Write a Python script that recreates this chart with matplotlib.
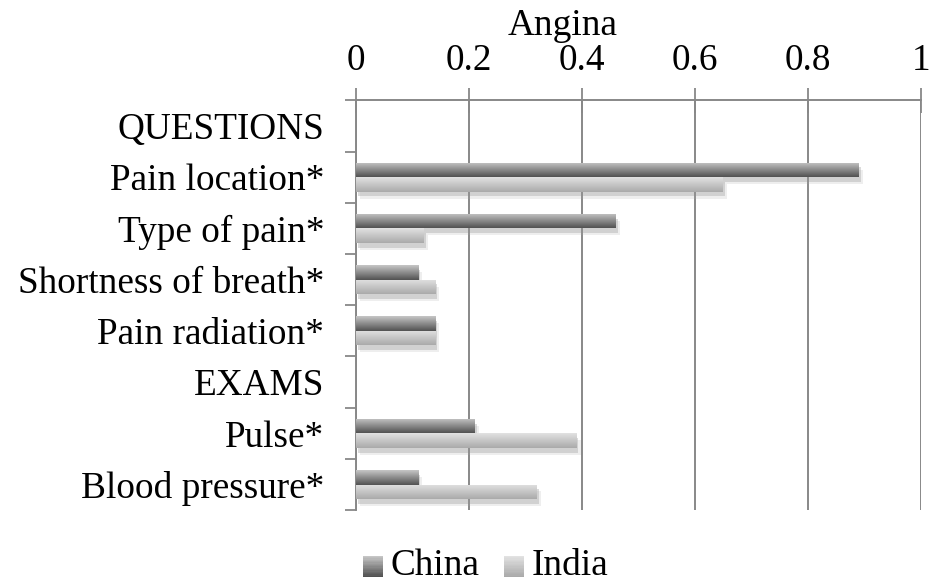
import matplotlib.pyplot as plt
import matplotlib.patheffects as pe
from matplotlib.patches import Rectangle
from matplotlib.legend_handler import HandlerBase
import numpy as np

plt.rcParams['font.family'] = ['Liberation Serif', 'DejaVu Serif']

categories = ["QUESTIONS", "Pain location*", "Type of pain*", "Shortness of breath*",
              "Pain radiation*", "EXAMS", "Pulse*", "Blood pressure*"]
china = [0, 0.89, 0.46, 0.11, 0.14, 0, 0.21, 0.11]
india = [0, 0.65, 0.12, 0.14, 0.14, 0, 0.39, 0.32]
x_ticks = [0, 0.2, 0.4, 0.6, 0.8, 1]

china_top, china_bot = (198, 198, 198), (82, 82, 82)
india_top, india_bot = (226, 226, 226), (170, 170, 170)

FS = 26.8
fig = plt.figure(figsize=(9.3, 5.83), dpi=100)
ax = fig.add_axes([0.383, 0.125, 0.607, 0.703])

y = np.arange(len(categories))
h = 0.283


def grad_img(top_col, bot_col, n=64):
    g = np.linspace(0, 1, n).reshape(-1, 1, 1)
    top = np.array(top_col) / 255.0
    bot = np.array(bot_col) / 255.0
    return top + (bot - top) * g


def gradient_bars(bars, top_col, bot_col):
    # vertical gradient inside each bar, lighter on top
    img = grad_img(top_col, bot_col)
    for b in bars:
        if b.get_width() <= 0:
            b.set_visible(False)
            continue
        x0, y0 = b.get_x(), b.get_y()
        w, hh = b.get_width(), b.get_height()
        im = ax.imshow(img, extent=[x0, x0 + w, y0 + hh, y0], aspect='auto',
                       interpolation='bilinear', zorder=3)
        im.set_clip_path(b)


shadow = [pe.SimplePatchShadow(offset=(1.5, -3.5), shadow_rgbFace='#888888', alpha=0.3),
          pe.SimplePatchShadow(offset=(3, -5), shadow_rgbFace='#aaaaaa', alpha=0.2),
          pe.Normal()]
b1 = ax.barh(y - h / 2, china, height=h, color='#808080', zorder=2, path_effects=shadow)
b2 = ax.barh(y + h / 2, india, height=h, color='#c8c8c8', zorder=2, path_effects=shadow)

ax.set_ylim(len(categories) - 0.5, -0.5)
ax.set_xlim(0, 1)
gradient_bars(b1, china_top, china_bot)
gradient_bars(b2, india_top, india_bot)

ax.xaxis.tick_top()
ax.set_xticks(x_ticks)
ax.set_xticklabels(["0", "0.2", "0.4", "0.6", "0.8", "1"])
ax.tick_params(axis='x', which='major', direction='inout', length=18, width=1.3,
               color='#888888', labelsize=FS, pad=7)
ax.grid(axis='x', color='#888888', linewidth=1.4, zorder=0)
ax.set_axisbelow(True)

ax.set_yticks(y)
ax.set_yticklabels(categories)
ax.set_yticks(np.arange(len(categories) + 1) - 0.5, minor=True)
ax.tick_params(axis='y', which='major', length=0, labelsize=FS, pad=23)
ax.tick_params(axis='y', which='minor', direction='out', length=8, width=1.3,
               color='#888888')

for s in ['bottom', 'right']:
    ax.spines[s].set_visible(False)
for s in ['top', 'left']:
    ax.spines[s].set_color('#888888')
    ax.spines[s].set_linewidth(1.4)

fig.text(0.605, 1 - 35 / 583, "Angina", ha='center', va='baseline', fontsize=FS)


class GradHandler(HandlerBase):
    def __init__(self, top_col, bot_col):
        super().__init__()
        self.top = np.array(top_col) / 255.0
        self.bot = np.array(bot_col) / 255.0

    def create_artists(self, legend, orig, xd, yd, width, height, fontsize, trans):
        n = 16
        arts = []
        for i in range(n):
            c = self.top + (self.bot - self.top) * (i / (n - 1))
            r = Rectangle((xd, yd + height - (i + 1) * height / n), width, height / n + 0.3,
                          facecolor=c, edgecolor='none', transform=trans)
            arts.append(r)
        return arts


hc = Rectangle((0, 0), 1, 1)
hi = Rectangle((0, 0), 1, 1)
fig.legend([hc, hi], ["China", "India"], loc='center', bbox_to_anchor=(0.522, 0.03),
           ncol=2, frameon=False, fontsize=FS, handlelength=0.55, handleheight=0.5,
           handletextpad=0.2, columnspacing=0.65, borderpad=0,
           handler_map={hc: GradHandler(china_top, china_bot),
                        hi: GradHandler(india_top, india_bot)})

fig.savefig("out.png", dpi=100)
